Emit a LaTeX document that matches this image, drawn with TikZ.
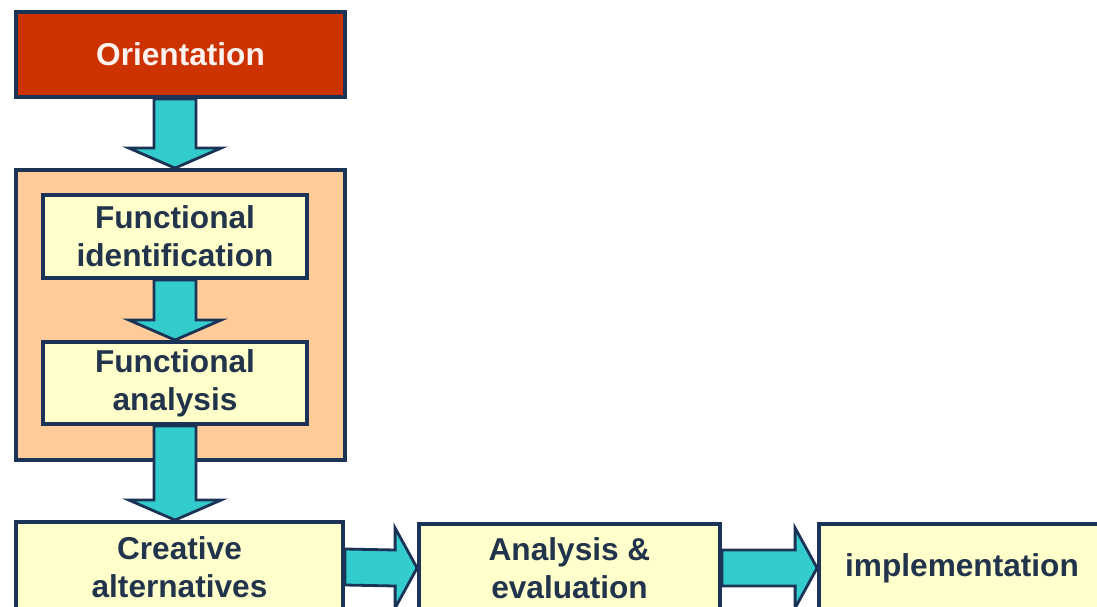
\documentclass[tikz,border=0pt]{standalone}
\usepackage{fontspec}
\setmainfont{Liberation Sans}
\usetikzlibrary{calc}
\definecolor{orientred}{HTML}{CC3300}
\definecolor{framenavy}{HTML}{1A3356}
\definecolor{textnavy}{HTML}{22344C}
\definecolor{flowteal}{HTML}{33CCCC}
\definecolor{grouppeach}{HTML}{FFCC99}
\definecolor{boxyellow}{HTML}{FFFFCC}
\tikzset{
	box/.style={draw=framenavy, line width=2.2pt, fill=boxyellow, text=textnavy, inner sep=0pt,
		align=center, font=\fontsize{18}{21.6}\selectfont\bfseries},
	flow/.style={draw=framenavy, line width=1.6pt, fill=flowteal, line join=miter}
}
\def\blockdown(#1)(#2){\draw[flow] ($(#1)+(-21,0)$) -- ($(#2)+(-21,-20)$) -- ($(#2)+(-46,-20)$) -- (#2) -- ($(#2)+(46,-20)$) -- ($(#2)+(21,-20)$) -- ($(#1)+(21,0)$) -- cycle;}
\def\blockright(#1)(#2){\draw[flow] ($(#1)+(0,-18)$) -- ($(#2)+(-22,-18)$) -- ($(#2)+(-22,-40)$) -- (#2) -- ($(#2)+(-22,40)$) -- ($(#2)+(-22,18)$) -- ($(#1)+(0,18)$) -- cycle;}

\begin{document}
\begin{tikzpicture}[x=0.02cm, y=-0.02cm]
		%%%%% START %%%%%
		\useasboundingbox (0, 0) rectangle (1097, 607);
		
		\node[box, fill=orientred, text=orientred!6, minimum width=6.58cm, minimum height=1.70cm] (orient) at (180.5, 54.5) {Orientation};
		
		\node[box, fill=grouppeach, minimum width=6.58cm, minimum height=5.80cm] (group) at (180.5, 315) {};
		\node[box, minimum width=5.28cm, minimum height=1.66cm] (fident) at (175, 236.5) {Functional\\identification};
		\node[box, minimum width=5.28cm, minimum height=1.64cm] (fanal) at (175, 383) {Functional\\analysis};
		
		\node[box, minimum width=6.54cm, minimum height=1.80cm] (creative) at (179.5, 567) {Creative\\alternatives};
		\node[box, minimum width=6.02cm, minimum height=1.76cm] (evaluate) at (569.5, 568) {Analysis \&\\evaluation};
		\node[box, minimum width=5.72cm, minimum height=1.76cm] (implement) at (962, 568) {implementation};
		
		\blockdown(orient.south -| fident.center)(group.north -| fident.center)
		\blockdown(fident.south)(fanal.north)
		\blockdown(fanal.south)(creative.north -| fanal.center)
		
		\blockright(creative.east)(evaluate.west)
		\blockright(evaluate.east)(implement.west)
		
		%%%%% END %%%%%
	\end{tikzpicture}
\end{document}
